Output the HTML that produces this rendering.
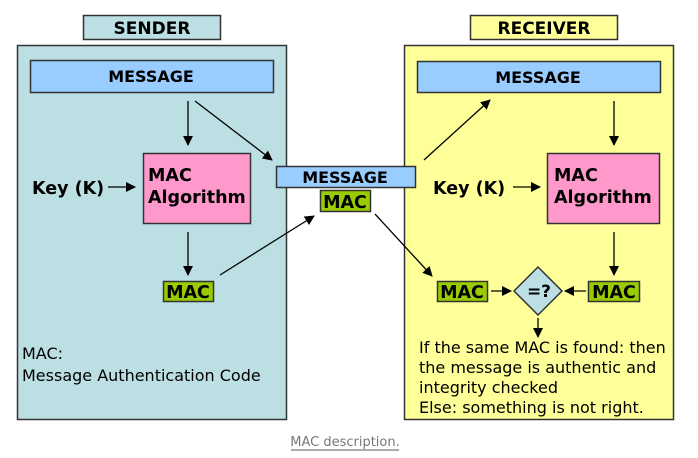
<!DOCTYPE html>
<html><head><meta charset="utf-8"><style>
html,body{margin:0;padding:0;background:#fff;}
svg{display:block;}
text{font-family:"DejaVu Sans","Liberation Sans",sans-serif;}
.b{font-weight:bold;}
</style></head><body>
<svg width="698" height="458" viewBox="0 0 698 458" xmlns="http://www.w3.org/2000/svg">
<defs>
<marker id="a" markerWidth="10" markerHeight="10" refX="9" refY="5" orient="auto" markerUnits="userSpaceOnUse">
<path d="M0,0 L10,5 L0,10 z" fill="#000"/></marker>
</defs>
<!-- sender -->
<rect x="83.5" y="15.5" width="137" height="24" fill="#bbdfe2" stroke="#333" stroke-width="1.5"/>
<text x="152" y="34" class="b" font-size="17" text-anchor="middle">SENDER</text>
<rect x="17.5" y="45.5" width="269" height="374" fill="#bbdfe2" stroke="#333" stroke-width="1.5"/>
<rect x="30.5" y="60.5" width="243" height="32" fill="#99ccff" stroke="#333" stroke-width="1.5"/>
<text x="151" y="82" class="b" font-size="16" text-anchor="middle">MESSAGE</text>
<rect x="143.5" y="153.5" width="107" height="70" fill="#ff99cc" stroke="#333" stroke-width="1.5"/>
<text x="148" y="181" class="b" font-size="17.5">MAC</text>
<text x="148" y="203" class="b" font-size="17.5">Algorithm</text>
<text x="32" y="194" class="b" font-size="17.5">Key (K)</text>
<rect x="163.5" y="281.5" width="50" height="20" fill="#99cc00" stroke="#333" stroke-width="1.5"/>
<text x="188" y="298" class="b" font-size="17.5" text-anchor="middle">MAC</text>
<text x="22" y="359" font-size="16">MAC:</text>
<text x="22" y="381" font-size="16">Message Authentication Code</text>
<!-- receiver -->
<rect x="470.5" y="15.5" width="147" height="24" fill="#ffff99" stroke="#333" stroke-width="1.5"/>
<text x="544" y="34" class="b" font-size="17" text-anchor="middle">RECEIVER</text>
<rect x="404.5" y="45.5" width="269" height="374" fill="#ffff99" stroke="#333" stroke-width="1.5"/>
<rect x="417.5" y="61.5" width="243" height="31" fill="#99ccff" stroke="#333" stroke-width="1.5"/>
<text x="538" y="83" class="b" font-size="16" text-anchor="middle">MESSAGE</text>
<rect x="547.5" y="153.5" width="112" height="70" fill="#ff99cc" stroke="#333" stroke-width="1.5"/>
<text x="554" y="181" class="b" font-size="17.5">MAC</text>
<text x="554" y="203" class="b" font-size="17.5">Algorithm</text>
<text x="433" y="194" class="b" font-size="17.5">Key (K)</text>
<rect x="437.5" y="281.5" width="50" height="20" fill="#99cc00" stroke="#333" stroke-width="1.5"/>
<text x="462" y="298" class="b" font-size="17.5" text-anchor="middle">MAC</text>
<rect x="588.5" y="281.5" width="51" height="20" fill="#99cc00" stroke="#333" stroke-width="1.5"/>
<text x="614" y="298" class="b" font-size="17.5" text-anchor="middle">MAC</text>
<path d="M538,267 L562,291 L538,315 L514,291 z" fill="#bbdfe2" stroke="#333" stroke-width="1.5"/>
<text x="539" y="297" class="b" font-size="17" text-anchor="middle">=?</text>
<text x="419" y="353" font-size="16">If the same MAC is found: then</text>
<text x="419" y="373" font-size="16">the message is authentic and</text>
<text x="419" y="393" font-size="16">integrity checked</text>
<text x="419" y="413" font-size="16">Else: something is not right.</text>
<!-- middle -->
<rect x="276.5" y="166.5" width="139" height="21" fill="#99ccff" stroke="#333" stroke-width="1.5"/>
<text x="345" y="183" class="b" font-size="16" text-anchor="middle">MESSAGE</text>
<rect x="320.5" y="190.5" width="50" height="21" fill="#99cc00" stroke="#333" stroke-width="1.5"/>
<text x="345" y="208" class="b" font-size="17.5" text-anchor="middle">MAC</text>
<!-- arrows -->
<g stroke="#000" stroke-width="1.3" fill="none" marker-end="url(#a)">
<line x1="188" y1="101" x2="188" y2="145"/>
<line x1="195" y1="101" x2="272" y2="160"/>
<line x1="108" y1="187" x2="135" y2="187"/>
<line x1="188" y1="232" x2="188" y2="275"/>
<line x1="220" y1="275" x2="314" y2="216"/>
<line x1="424" y1="160" x2="490" y2="100"/>
<line x1="614" y1="101" x2="614" y2="145"/>
<line x1="513" y1="187" x2="540" y2="187"/>
<line x1="614" y1="232" x2="614" y2="275"/>
<line x1="375" y1="214" x2="432" y2="276"/>
<line x1="491" y1="291" x2="511" y2="291"/>
<line x1="586" y1="291" x2="565" y2="291"/>
<line x1="538" y1="318" x2="538" y2="337"/>
</g>
<text x="345" y="446" font-size="13" fill="#777" text-anchor="middle">MAC description.</text>
<line x1="291" y1="450" x2="399" y2="450" stroke="#555" stroke-width="1"/>
</svg>
</body></html>
